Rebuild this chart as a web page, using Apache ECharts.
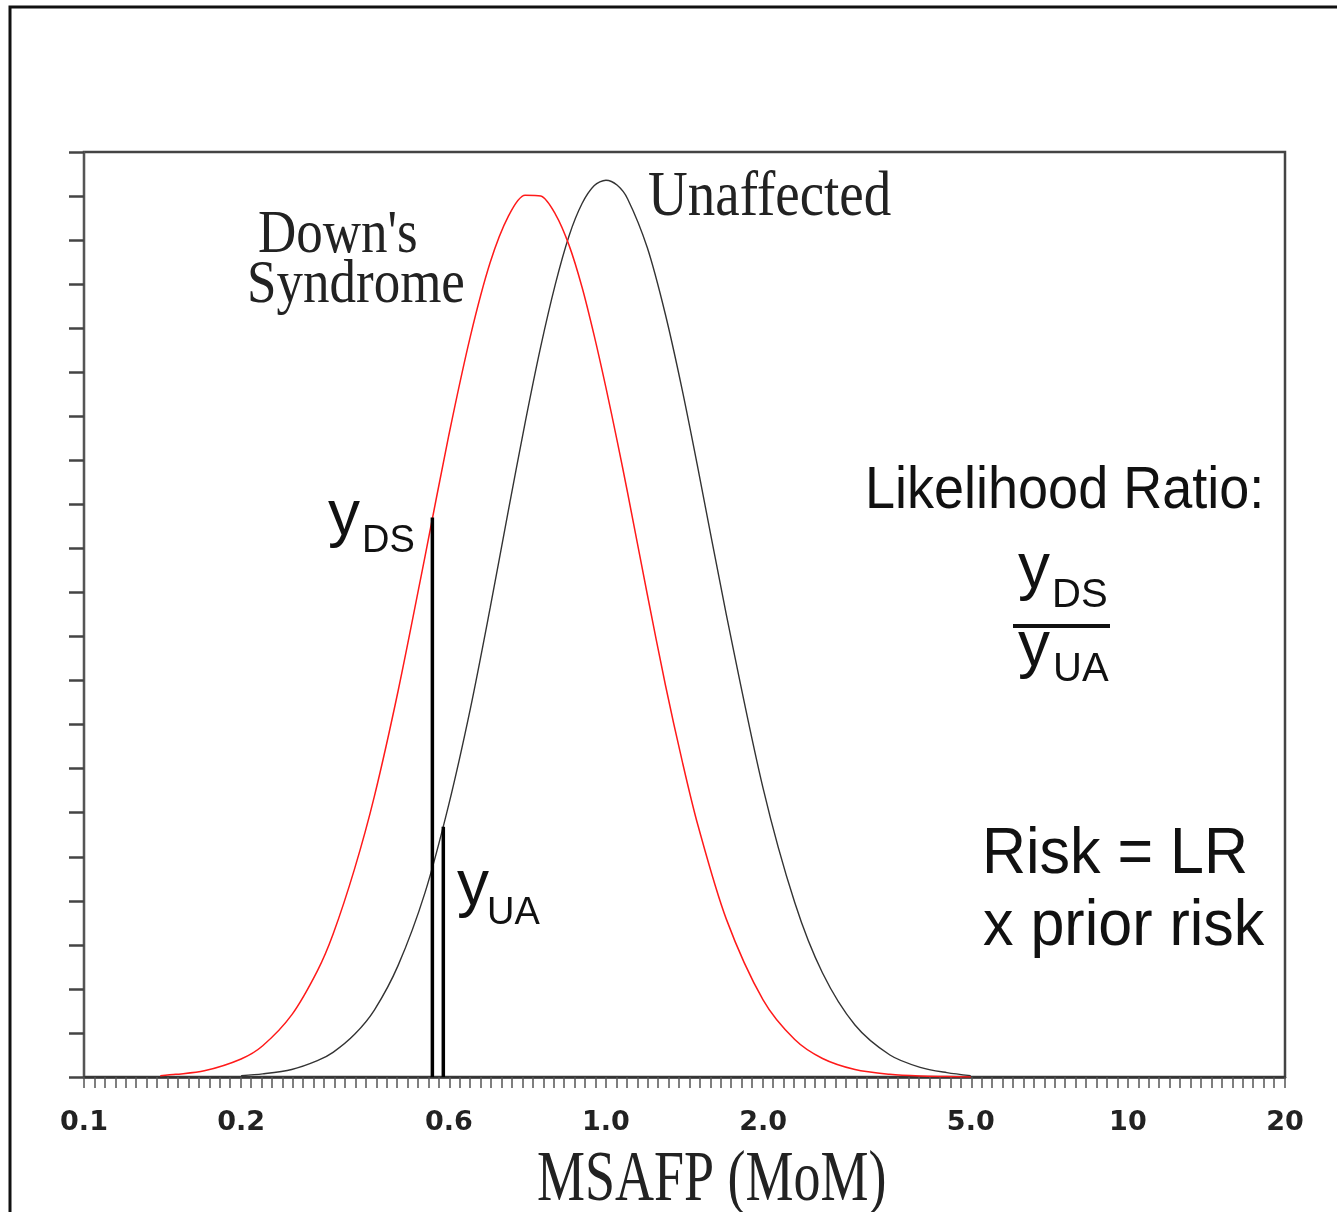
<!DOCTYPE html>
<html><head><meta charset="utf-8">
<script src="https://cdn.jsdelivr.net/npm/echarts@6/dist/echarts.min.js"></script>
<style>html,body{margin:0;padding:0;background:#fff}#c{width:1337px;height:1212px}</style>
</head><body><div id="c"></div><script>
// MSAFP (MoM) sample points and curve heights
const momDS = [0.14,0.15,0.17,0.2,0.22,0.25,0.28,0.3,0.33,0.36,0.4,0.45,0.5,0.55,0.6,0.65,0.7,0.75,0.8,0.85,0.9,0.95,1.0,1.05,1.1,1.2,1.3,1.4,1.5,1.7,2.0,2.3,2.6,3.0,3.5,4.0,4.5,5.0];
const downsSyndrome = [0.03,0.06,0.14,0.41,0.71,1.41,2.41,3.24,4.73,6.37,8.78,11.81,14.57,16.82,18.49,19.54,20.02,20.0,19.59,18.88,17.93,16.82,15.65,14.46,13.27,10.96,8.90,7.17,5.72,3.59,1.75,0.85,0.42,0.17,0.06,0.02,0.01,0.0];
const momUA = [0.2,0.22,0.25,0.28,0.3,0.33,0.36,0.4,0.45,0.5,0.55,0.6,0.65,0.7,0.75,0.8,0.85,0.9,0.95,1.0,1.05,1.1,1.2,1.3,1.4,1.5,1.7,2.0,2.3,2.6,3.0,3.5,4.0,4.5,5.0];
const unaffected = [0.03,0.07,0.17,0.37,0.56,0.97,1.52,2.54,4.18,6.19,8.37,10.65,12.85,14.85,16.58,18.0,19.1,19.83,20.24,20.36,20.25,19.94,18.83,17.31,15.60,13.83,10.51,6.56,3.96,2.36,1.18,0.50,0.22,0.10,0.03];
const tickValues = [0.1,0.2,0.5,1,2,5,10,20];
const tickLabels = ['0.1','0.2','0.6','1.0','2.0','5.0','10','20'];
const markerMoM = [0.465, 0.488];
const markerHeights = [12.7, 5.68];

const L = v => Math.log10(v);
const chart = echarts.init(document.getElementById('c'), null, {renderer:'canvas'});

const SANS = 'Liberation Sans', SERIF = 'Liberation Serif';
function txt(text, left, baseline, size, family, sy, fill) {
  const k = family === SERIF ? 0.3375 : 0.3465;
  sy = sy || 1;
  return {type:'text', x:left, y:baseline - k*size*sy, scaleY:sy, z:10,
    style:{text:text, fontFamily:family, fontSize:size, fill:fill||'#111', verticalAlign:'middle', align:'left'}};
}

const option = {
  animation:false,
  backgroundColor:'#fff',
  grid:{left:84, top:152, right:52, bottom:135, show:true, borderColor:'#444', borderWidth:2.5, backgroundColor:'transparent'},
  xAxis:{type:'value', min:-1, max:L(20), interval:0.02,
    axisLine:{show:true, onZero:false, lineStyle:{color:'#333', width:2.5}},
    axisTick:{show:true, inside:false, length:11, lineStyle:{color:'#555', width:1.5}},
    splitLine:{show:false},
    axisLabel:{customValues:tickValues.map(L), margin:32, fontFamily:'DejaVu Sans', fontWeight:'bold', fontSize:27, color:'#222',
      formatter:function(v){ const i = tickValues.findIndex(t => Math.abs(L(t)-v) < 1e-6); return i>=0 ? tickLabels[i] : ''; }}
  },
  yAxis:{type:'value', min:0, max:21, interval:1,
    axisLine:{show:true, onZero:false, lineStyle:{color:'#555', width:2}},
    axisTick:{show:true, inside:false, length:15, lineStyle:{color:'#444', width:2.5}},
    axisLabel:{show:false}, splitLine:{show:false}
  },
  series:[
    {type:'line', name:'Unaffected', data:momUA.map((m,i)=>[L(m), unaffected[i]]), showSymbol:false, smooth:0.3,
     lineStyle:{color:'#333', width:1.4}, z:3},
    {type:'line', name:"Down's Syndrome", data:momDS.map((m,i)=>[L(m), downsSyndrome[i]]), showSymbol:false, smooth:0.3,
     lineStyle:{color:'#ff1a1a', width:1.5}, z:4},
    {type:'line', name:'yDS', data:[[L(markerMoM[0]),0],[L(markerMoM[0]),markerHeights[0]]], showSymbol:false,
     lineStyle:{color:'#000', width:3.5}, z:5},
    {type:'line', name:'yUA', data:[[L(markerMoM[1]),0],[L(markerMoM[1]),markerHeights[1]]], showSymbol:false,
     lineStyle:{color:'#000', width:3.5}, z:5}
  ],
  graphic:[
    {type:'rect', shape:{x:10, y:7, width:1400, height:1300}, style:{fill:'none', stroke:'#111', lineWidth:3}, z:1},
    txt('Unaffected', 648, 220, 55, SERIF, 1.15, '#222'),
    txt("Down's", 258, 257, 53, SERIF, 1.15, '#222'),
    txt('Syndrome', 247, 307, 53, SERIF, 1.15, '#222'),
    txt('MSAFP (MoM)', 537, 1205, 54, SERIF, 1.35, '#222'),
    txt('Likelihood Ratio:', 865, 512, 54, SANS, 1.08),
    txt('Risk = LR', 982, 878, 61, SANS, 1.05),
    txt('x prior risk', 983, 950, 61, SANS, 1.05),
    txt('y', 328, 540, 64, SANS),
    txt('DS', 362, 555, 38, SANS),
    txt('y', 457, 910, 64, SANS),
    txt('UA', 487, 927, 38, SANS),
    txt('y', 1018, 593, 64, SANS),
    txt('DS', 1052, 610, 40, SANS),
    {type:'line', shape:{x1:1013, y1:626, x2:1110, y2:626}, style:{stroke:'#111', lineWidth:4}, z:10},
    txt('y', 1018, 671, 64, SANS),
    txt('UA', 1053, 684, 40, SANS)
  ]
};
chart.setOption(option);
</script></body></html>
